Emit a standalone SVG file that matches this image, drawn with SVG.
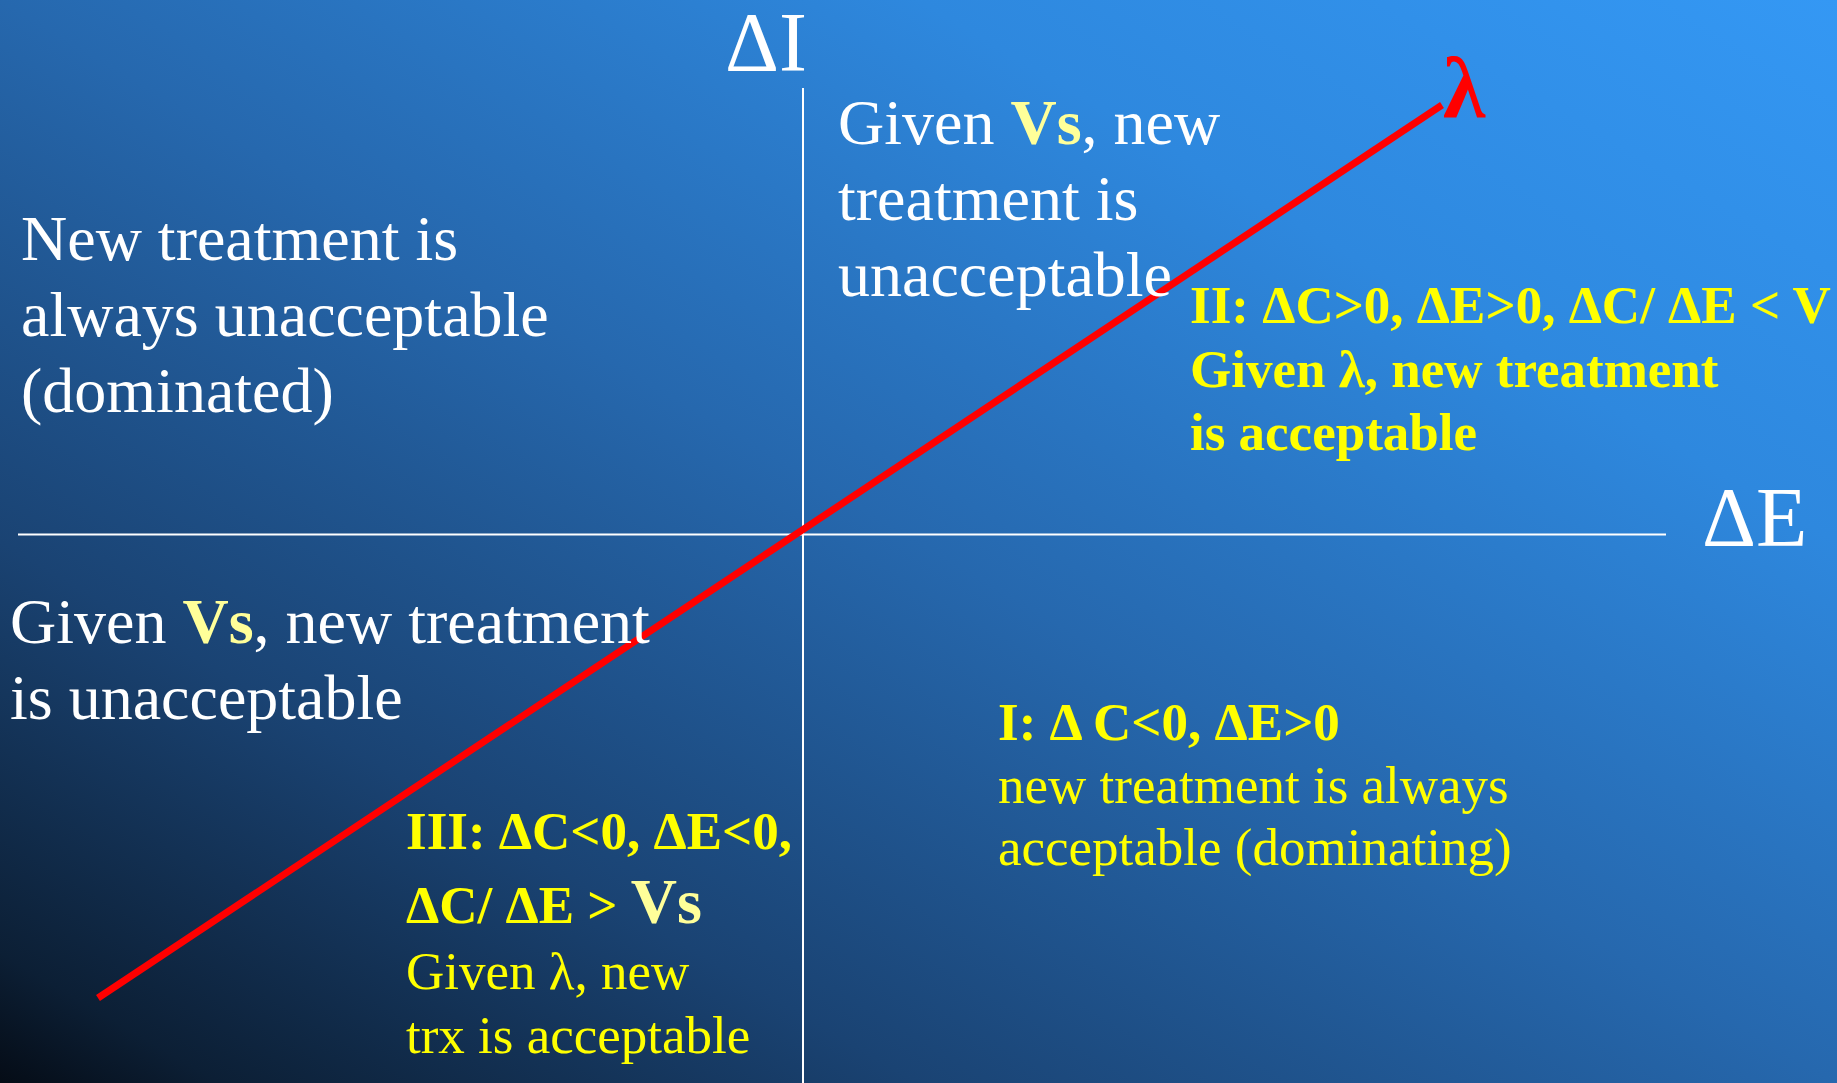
<svg xmlns="http://www.w3.org/2000/svg" width="1837" height="1083" viewBox="0 0 1837 1083">
  <defs>
    <!-- diagonal backdrop: dark navy bottom-left to bright blue top-right -->
    <linearGradient id="bg" x1="0" y1="1" x2="1" y2="0">
      <stop offset="0" stop-color="#050c16"/>
      <stop offset="0.06" stop-color="#0c1f35"/>
      <stop offset="0.25" stop-color="#1a4373"/>
      <stop offset="0.5" stop-color="#2668ae"/>
      <stop offset="0.75" stop-color="#2e88de"/>
      <stop offset="1" stop-color="#3498f4"/>
    </linearGradient>
    <style>
      text { font-family: "Liberation Serif", "Times New Roman", serif; }
      .w { fill: #ffffff; font-size: 64px; }
      .axis-label { fill: #ffffff; font-size: 84px; }
      .y { fill: #ffff00; font-size: 53px; }
      .yb { fill: #ffff00; font-size: 53px; font-weight: bold; }
      .vs { fill: #ffff99; font-weight: bold; }
      .axis { stroke: #ffffff; stroke-width: 2; fill: none; }
      .lambda { stroke: #ff0000; stroke-width: 7; fill: none; }
    </style>
  </defs>

  <rect x="0" y="0" width="1837" height="1083" fill="url(#bg)"/>

  <!-- axes and the threshold line -->
  <g id="connectors">
    <line class="axis" x1="803" y1="88" x2="803" y2="1083"/>
    <line class="axis" x1="18" y1="534.5" x2="1666" y2="534.5"/>
    <line class="lambda" x1="98" y1="998" x2="1442" y2="105"/>
  </g>

  <g id="axis-delta-i">
    <text class="axis-label" x="725" y="71">ΔI</text>
  </g>
  <g id="axis-delta-e">
    <text class="axis-label" x="1702" y="546">ΔE</text>
  </g>
  <g id="lambda-label">
    <text x="1443" y="117" fill="#ff0000" font-size="86" font-weight="bold">λ</text>
  </g>

  <g id="quadrant-nw">
    <text class="w" x="21" y="260">New treatment is</text>
    <text class="w" x="21" y="336">always unacceptable</text>
    <text class="w" x="21" y="412">(dominated)</text>
  </g>

  <g id="quadrant-n">
    <text class="w" x="838" y="144">Given <tspan class="vs">Vs</tspan>, new</text>
    <text class="w" x="838" y="220">treatment is</text>
    <text class="w" x="838" y="296">unacceptable</text>
  </g>

  <g id="quadrant-ii">
    <text class="yb" x="1190" y="323">II: ΔC&gt;0, ΔE&gt;0, ΔC/ ΔE &lt; V</text>
    <text class="yb" x="1190" y="387">Given λ, new treatment</text>
    <text class="yb" x="1190" y="450">is acceptable</text>
  </g>

  <g id="quadrant-sw">
    <text class="w" x="10" y="643">Given <tspan class="vs">Vs</tspan>, new treatment</text>
    <text class="w" x="10" y="719">is unacceptable</text>
  </g>

  <g id="quadrant-iii">
    <text class="yb" x="406" y="849">III: ΔC&lt;0, ΔE&lt;0,</text>
    <text class="yb" x="406" y="923">ΔC/ ΔE &gt; <tspan class="vs" font-size="64">Vs</tspan></text>
    <text class="y" x="406" y="989">Given λ, new</text>
    <text class="y" x="406" y="1053">trx is acceptable</text>
  </g>

  <g id="quadrant-i">
    <text class="yb" x="998" y="740">I: Δ C&lt;0, ΔE&gt;0</text>
    <text class="y" x="998" y="803">new treatment is always</text>
    <text class="y" x="998" y="865">acceptable (dominating)</text>
  </g>
</svg>
